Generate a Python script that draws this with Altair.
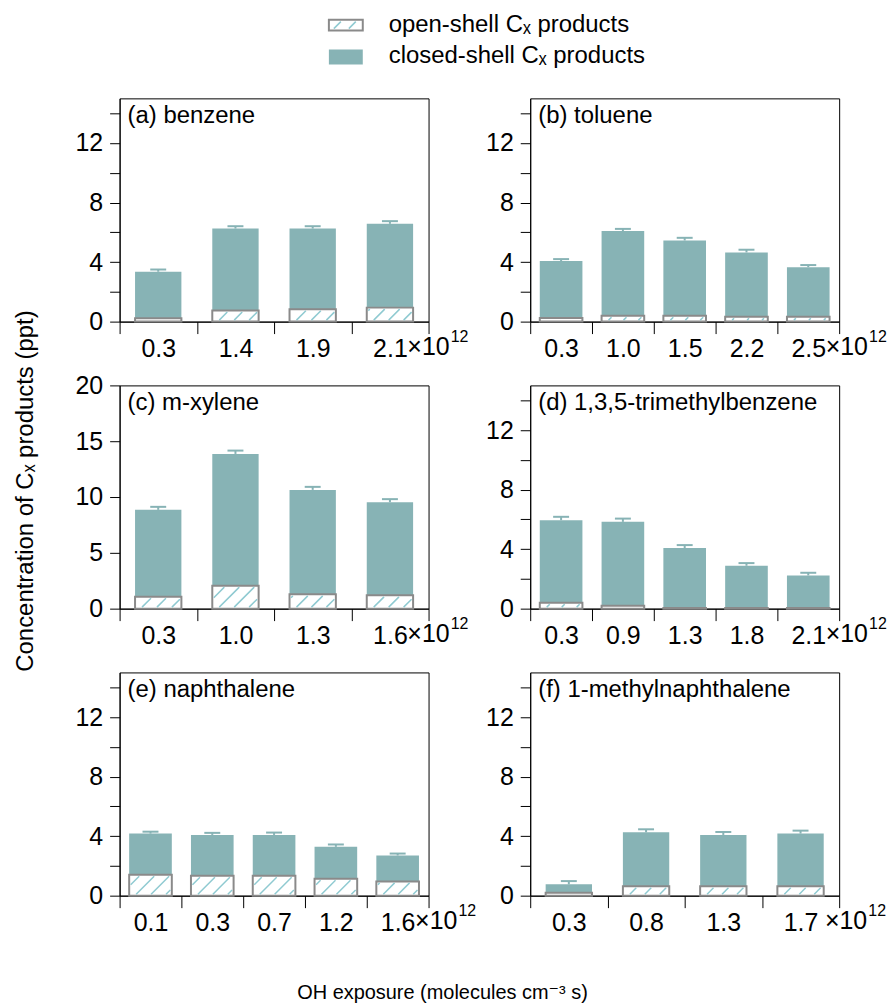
import altair as alt
import pandas as pd
import numpy as np

FONT = "Liberation Sans, Arial, DejaVu Sans, sans-serif"
TEAL = "#87b3b5"
HATCH = "#8fcad1"
BOXGRAY = "#8a8a8a"
FS_TICK = 25
FS = 24

# ---------------- data ----------------
names = ["(a) benzene", "(b) toluene", "(c) m-xylene",
         "(d) 1,3,5-trimethylbenzene", "(e) naphthalene", "(f) 1-methylnaphthalene"]

labels_a = ["0.3", "1.4", "1.9", "2.1"]
total_a = [3.35, 6.25, 6.25, 6.57]
err_a = [0.15, 0.16, 0.16, 0.18]
open_a = [0.22, 0.74, 0.83, 0.94]

labels_b = ["0.3", "1.0", "1.5", "2.2", "2.5"]
total_b = [4.07, 6.08, 5.45, 4.65, 3.66]
err_b = [0.13, 0.15, 0.18, 0.18, 0.14]
open_b = [0.25, 0.40, 0.40, 0.33, 0.33]

labels_c = ["0.3", "1.0", "1.3", "1.6"]
total_c = [8.85, 13.86, 10.64, 9.54]
err_c = [0.27, 0.30, 0.27, 0.27]
open_c = [1.07, 2.06, 1.28, 1.19]

labels_d = ["0.3", "0.9", "1.3", "1.8", "2.1"]
total_d = [5.94, 5.83, 4.07, 2.88, 2.23]
err_d = [0.23, 0.22, 0.20, 0.18, 0.18]
open_d = [0.40, 0.20, 0.05, 0.05, 0.05]

labels_e = ["0.1", "0.3", "0.7", "1.2", "1.6"]
total_e = [4.17, 4.08, 4.08, 3.28, 2.70]
err_e = [0.13, 0.14, 0.16, 0.16, 0.13]
open_e = [1.41, 1.34, 1.34, 1.14, 0.96]

labels_f = ["0.3", "0.8", "1.3", "1.7"]
total_f = [0.76, 4.26, 4.08, 4.17]
err_f = [0.22, 0.20, 0.20, 0.20]
open_f = [0.20, 0.63, 0.63, 0.63]

legend_labels = ["open-shell C\u2093 products", "closed-shell C\u2093 products"]
y_title = "Concentration of C\u2093 products (ppt)"
x_title = "OH exposure (molecules cm\u207b\u00b3 s)"

W, H = 310, 224


def hatch_rows(opn, n, ymax, hw):
    step = W / n
    ppu = H / ymax
    rows = []
    for i, o in enumerate(opn):
        hpx = o * ppu
        if hpx < 4:
            continue
        wpx = 2 * hw * step
        xl, xr = 1.5, wpx - 1.5
        yb, yt = 1.5, hpx - 1.5
        s = 15.0
        c = xl + 4 - s * (int(np.ceil(hpx / s)) + 1)
        while c < xr:
            lo = max(yb, xl - c)
            hi = min(yt, xr - c)
            if hi - lo > 1:
                rows.append(dict(hx1=i - hw + (c + lo) / step, hy1=lo / ppu,
                                 hx2=i - hw + (c + hi) / step, hy2=hi / ppu))
            c += s
    return pd.DataFrame(rows, columns=["hx1", "hy1", "hx2", "hy2"])


def panel(name, labels, total, err, opn, ymax, yvals, ylabel_mod, hw, x10dx, extra=None):
    n = len(labels)
    step = W / n
    capw = 8.0 / step
    df = pd.DataFrame({"idx": list(range(n)), "label": labels, "total": total,
                       "err": err, "open": opn})
    xs = alt.Scale(domain=[-0.5, n - 0.5], nice=False, zero=False)
    ys = alt.Scale(domain=[0, ymax], nice=False, zero=True)
    expr = "''"
    for i in reversed(range(n)):
        expr = f"abs(datum.value - ({i - 0.5})) < 0.01 ? '{labels[i]}' : " + expr
    xaxis = alt.Axis(values=[i - 0.5 for i in range(n + 1)], labelExpr=expr,
                     labelOffset=step / 2, tickSize=12, labelPadding=3, title=None,
                     grid=False, labelFlush=False, labelOverlap=False)
    yaxis = alt.Axis(values=yvals, labelExpr=f"datum.value % {ylabel_mod} === 0 ? datum.label : ''",
                     tickSize=10, labelPadding=7, title=None, grid=False,
                     labelFlush=False, labelOverlap=False)

    def X(f):
        return alt.X(f, scale=xs, axis=xaxis)

    def Y(f):
        return alt.Y(f, scale=ys, axis=yaxis)

    base = alt.Chart(df).transform_calculate(
        xl=f"datum.idx - {hw}", xr=f"datum.idx + {hw}",
        cl=f"datum.idx - {capw}", cr=f"datum.idx + {capw}",
        top="datum.total + datum.err", zero="0")

    bars = base.mark_bar(color=TEAL).encode(
        x=X("xl:Q"), x2="xr:Q", y=Y("open:Q"), y2="total:Q")
    stem = base.mark_rule(color=TEAL, strokeWidth=2).encode(
        x=X("idx:Q"), y=Y("total:Q"), y2="top:Q")
    cap = base.mark_rule(color=TEAL, strokeWidth=2).encode(
        x=X("cl:Q"), x2="cr:Q", y=Y("top:Q"))
    box = base.mark_bar(fill="white", stroke=BOXGRAY, strokeWidth=2).encode(
        x=X("xl:Q"), x2="xr:Q", y=Y("zero:Q"), y2="open:Q")
    hd = hatch_rows(opn, n, ymax, hw)
    hatch = alt.Chart(hd).mark_rule(color=HATCH, strokeWidth=1.5).encode(
        x=X("hx1:Q"), x2="hx2:Q", y=Y("hy1:Q"), y2="hy2:Q")

    tdf = pd.DataFrame({"t": [name], "xe": [n - 1], "ye": [0]})
    tbase = alt.Chart(tdf)
    title = tbase.mark_text(align="left", baseline="alphabetic", font=FONT,
                            fontSize=FS, color="black").encode(
        x=alt.value(8), y=alt.value(25), text="t:N")
    x10 = tbase.mark_text(align="left", baseline="alphabetic", font=FONT, fontSize=FS_TICK,
                          color="black", dx=x10dx, dy=33).encode(
        x=X("xe:Q"), y=Y("ye:Q"), text=alt.value("\u00d710"))
    sup = tbase.mark_text(align="left", baseline="alphabetic", font=FONT, fontSize=16,
                          color="black", dx=x10dx + 43.5, dy=20).encode(
        x=X("xe:Q"), y=Y("ye:Q"), text=alt.value("12"))
    layers = [bars, stem, cap, box, hatch, title, x10, sup]
    if extra is not None:
        layers += extra
    return alt.layer(*layers).properties(width=W, height=H)


# ---------- legend and shared titles (drawn in panel (a)'s coordinates) ----------
one = alt.Chart(pd.DataFrame({"k": [0]}))
leg_hbox = one.mark_rect(fill="white", stroke=BOXGRAY, strokeWidth=2).encode(
    x=alt.value(210), x2=alt.value(244), y=alt.value(-79), y2=alt.value(-68))
leg_h1 = one.mark_rule(color=HATCH, strokeWidth=1.5).encode(
    x=alt.value(215), x2=alt.value(222), y=alt.value(-70), y2=alt.value(-77))
leg_h2 = one.mark_rule(color=HATCH, strokeWidth=1.5).encode(
    x=alt.value(230), x2=alt.value(237), y=alt.value(-70), y2=alt.value(-77))
leg_teal = one.mark_rect(fill=TEAL).encode(
    x=alt.value(210), x2=alt.value(244), y=alt.value(-49), y2=alt.value(-34))
leg_t1 = one.mark_text(align="left", baseline="alphabetic", font=FONT, fontSize=FS,
                       color="black").encode(x=alt.value(270), y=alt.value(-67),
                                             text=alt.value(legend_labels[0]))
leg_t2 = one.mark_text(align="left", baseline="alphabetic", font=FONT, fontSize=FS,
                       color="black").encode(x=alt.value(270), y=alt.value(-35),
                                             text=alt.value(legend_labels[1]))
ytitle = one.mark_text(angle=270, align="center", baseline="middle", font=FONT,
                       fontSize=FS, color="black").encode(
    x=alt.value(-94), y=alt.value(394), text=alt.value(y_title))
xtitle = one.mark_text(align="center", baseline="alphabetic", font=FONT,
                       fontSize=20, color="black").encode(
    x=alt.value(324), y=alt.value(904), text=alt.value(x_title))
anchor = one.mark_rule(strokeOpacity=0, color="white").encode(
    x=alt.value(-119), x2=alt.value(-119), y=alt.value(-96), y2=alt.value(-95))
extra = [leg_hbox, leg_h1, leg_h2, leg_teal, leg_t1, leg_t2, ytitle, xtitle, anchor]

y15 = list(range(0, 15, 2))
y20 = [0, 5, 10, 15, 20]

pa = panel(names[0], labels_a, total_a, err_a, open_a, 15, y15, 4, 0.30, 17.5, extra)
pb = panel(names[1], labels_b, total_b, err_b, open_b, 15, y15, 4, 0.345, 17.5)
pc = panel(names[2], labels_c, total_c, err_c, open_c, 20, y20, 5, 0.30, 17.5)
pd_ = panel(names[3], labels_d, total_d, err_d, open_d, 15, y15, 4, 0.345, 17.5)
pe = panel(names[4], labels_e, total_e, err_e, open_e, 15, y15, 4, 0.345, 17.5)
pf = panel(names[5], labels_f, total_f, err_f, open_f, 15, y15, 4, 0.30, 24.5)

chart = alt.concat(pa, pb, pc, pd_, pe, pf, columns=2,
                   spacing=alt.RowColnumber(row=64, column=102),
                   bounds="flush").properties(
    padding=0
).configure_view(
    stroke="black", strokeWidth=1
).configure_axis(
    domainColor="black", tickColor="black", labelColor="black", labelFont=FONT,
    labelFontSize=FS_TICK, domainWidth=1, tickWidth=1
)

chart.save("out.html", embed_options={"renderer": "svg", "actions": False})
